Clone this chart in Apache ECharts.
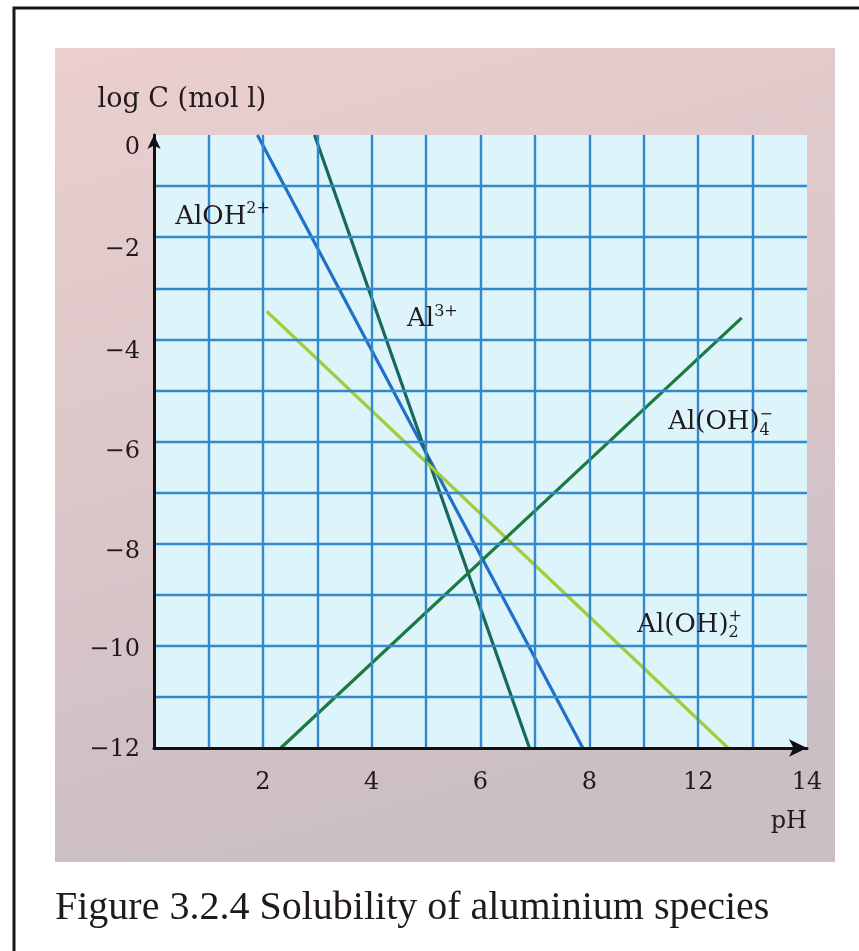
<!DOCTYPE html>
<html>
<head>
<meta charset="utf-8">
<script src="https://cdn.jsdelivr.net/npm/echarts@6/dist/echarts.min.js"></script>
<style>
html,body{margin:0;padding:0;background:#ffffff;}
#chart{width:859px;height:951px;}
</style>
</head>
<body>
<div id="chart"></div>
<script>
// ---- data ----
// x positions are grid positions; tick text reproduces the printed labels
const xTickValues = [2, 4, 6, 8, 10, 12];
const xTickLabels = ['2', '4', '6', '8', '12', '14'];
const yTickValues = [0, -2, -4, -6, -8, -10, -12];
const yTickLabels = ['0', '\u22122', '\u22124', '\u22126', '\u22128', '\u221210', '\u221212'];

const seriesNames = ['AlOH2+', 'Al3+', 'Al(OH)2+', 'Al(OH)4-'];
const alOH2plus = [[1.90, 0], [7.88, -12]];
const al3plus = [[2.95, 0], [6.90, -12]];
const alOH2_plus = [[2.07, -3.45], [10.55, -12]];
const alOH4_minus = [[2.33, -12], [10.80, -3.58]];

// species annotations: main text, subscript, superscript, anchor (data coords)
const labelMain = ['AlOH', 'Al', 'Al(OH)', 'Al(OH)'];
const labelSub = ['', '', '4', '2'];
const labelSup = ['2+', '3+', '\u2212', '+'];
const labelAnchors = [[0.39, -1.61], [4.65, -3.61], [9.45, -5.63], [8.88, -9.59]];

const axisNameY = 'log C (mol l)';
const axisNameX = 'pH';
const caption = 'Figure 3.2.4 Solubility of aluminium species';

// ---- styles ----
const TXT = '#211a1d';
const SERIF = '"DejaVu Serif", serif';
const TIMES = '"Liberation Serif", "Times New Roman", serif';
const GRID_BLUE = '#3389c9';
const colors = ['#1f70c6', '#17695d', '#a2cc3c', '#1b7a3d'];
// per-label vertical offset (px) of y tick labels below their grid line, as printed
const yLabelShift = [13, 13, 12, 10, 8, 4, 2];

const chart = echarts.init(document.getElementById('chart'), null, {renderer: 'canvas'});

function mkSeries(name, data, color) {
  return {
    name: name, type: 'line', data: data, symbol: 'none', silent: true,
    lineStyle: {color: color, width: 3.2}, z: 3
  };
}

const yRich = {};
yLabelShift.forEach(function (s, i) {
  yRich['y' + i] = {fontFamily: SERIF, fontSize: 24, color: TXT, lineHeight: 2 * s};
});

const option = {
  animation: false,
  backgroundColor: 'transparent',
  grid: {
    left: 154, right: 52, top: 135, bottom: 203,
    show: true, backgroundColor: '#def4fb', borderWidth: 0
  },
  xAxis: {
    type: 'value', min: 0, max: 12, interval: 1, z: 4,
    name: axisNameX, nameLocation: 'end', nameGap: 0,
    nameTextStyle: {fontFamily: SERIF, fontSize: 24, color: TXT, align: 'right', verticalAlign: 'top', padding: [62, 0, 0, 0]},
    axisLine: {show: true, onZero: false, symbol: ['none', 'arrow'], symbolSize: [13, 18], lineStyle: {color: '#111', width: 3}},
    axisTick: {show: false},
    splitLine: {show: true, showMinLine: false, showMaxLine: false, lineStyle: {color: GRID_BLUE, width: 2.4}},
    axisLabel: {
      margin: 23, fontFamily: SERIF, fontSize: 24, color: TXT, showMinLabel: true, showMaxLabel: true,
      formatter: function (v) {
        const i = xTickValues.indexOf(v);
        return i >= 0 ? xTickLabels[i] : '';
      }
    }
  },
  yAxis: {
    type: 'value', min: -12, max: 0, interval: 1, z: 4,
    name: axisNameY, nameLocation: 'end', nameGap: 22,
    nameTextStyle: {fontFamily: SERIF, fontSize: 27, color: TXT, align: 'center', padding: [0, 0, 0, 56]},
    axisLine: {show: true, onZero: false, symbol: ['none', 'arrow'], symbolSize: [10, 14], lineStyle: {color: '#111', width: 3}},
    axisTick: {show: false},
    splitLine: {show: true, showMinLine: false, showMaxLine: false, lineStyle: {color: GRID_BLUE, width: 2.4}},
    axisLabel: {
      margin: 14, fontFamily: SERIF, fontSize: 24, color: TXT, verticalAlign: 'top',
      rich: yRich,
      formatter: function (v) {
        const i = yTickValues.indexOf(v);
        return i >= 0 ? '{y' + i + '|' + yTickLabels[i] + '}' : '';
      }
    }
  },
  series: [
    mkSeries(seriesNames[0], alOH2plus, colors[0]),
    mkSeries(seriesNames[1], al3plus, colors[1]),
    mkSeries(seriesNames[2], alOH2_plus, colors[2]),
    mkSeries(seriesNames[3], alOH4_minus, colors[3])
  ]
};
chart.setOption(option);

const rich = {
  m: {fontFamily: SERIF, fontSize: 26, fill: TXT, lineHeight: 32},
  sup: {fontFamily: SERIF, fontSize: 16, fill: TXT, lineHeight: 14, verticalAlign: 'top'},
  supz: {fontFamily: SERIF, fontSize: 16, fill: TXT, lineHeight: 14, verticalAlign: 'top', width: 0.01},
  sub: {fontFamily: SERIF, fontSize: 16, fill: TXT, lineHeight: 14, verticalAlign: 'bottom'}
};

const labelEls = labelMain.map(function (m, i) {
  const p = chart.convertToPixel({gridIndex: 0}, labelAnchors[i]);
  let t = '{m|' + m + '}';
  if (labelSub[i]) t += '{supz|' + labelSup[i] + '}{sub|' + labelSub[i] + '}';
  else t += '{sup|' + labelSup[i] + '}';
  return {
    type: 'text', x: p[0], y: p[1], z: 10,
    style: {text: t, rich: rich, align: 'left', verticalAlign: 'middle', fill: TXT}
  };
});

chart.setOption({
  graphic: {
    elements: [
      {type: 'rect', z: -20, shape: {x: 14, y: 8, width: 1000, height: 1100},
        style: {fill: '#ffffff', stroke: '#161616', lineWidth: 3}},
      {type: 'rect', z: -10, shape: {x: 55, y: 48, width: 780, height: 814},
        style: {fill: new echarts.graphic.LinearGradient(0, 0, 0.3, 1, [
          {offset: 0, color: '#ebcfce'},
          {offset: 0.5, color: '#dcc7c9'},
          {offset: 1, color: '#cbbec5'}
        ])}},
      {type: 'text', x: 55, y: 908, z: 5,
        style: {text: caption, fontFamily: TIMES, fontSize: 40, fill: TXT, align: 'left', verticalAlign: 'middle'}}
    ].concat(labelEls)
  }
});
</script>
</body>
</html>
